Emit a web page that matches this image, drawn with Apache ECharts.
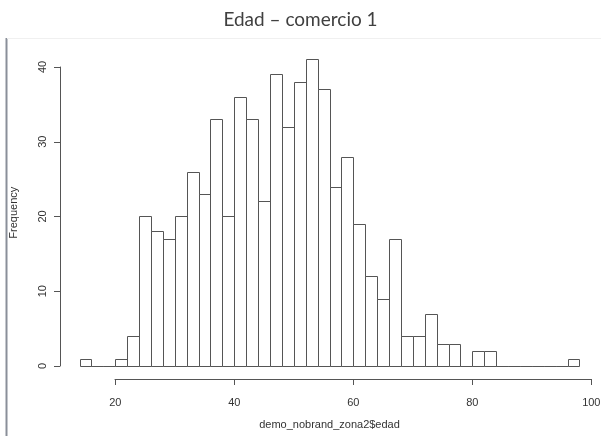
<!DOCTYPE html>
<html>
<head>
<meta charset="utf-8">
<script src="https://cdn.jsdelivr.net/npm/echarts@6/dist/echarts.min.js"></script>
<style>html,body{margin:0;padding:0;background:#fff;}#c{width:601px;height:436px;}</style>
</head>
<body>
<div id="c"></div>
<script>
// Histogram bins (age, width 2) and counts
var binStarts = [14,16,18,20,22,24,26,28,30,32,34,36,38,40,42,44,46,48,50,52,54,56,58,60,62,64,66,68,70,72,74,76,78,80,82,84,86,88,90,92,94,96];
var binWidth = 2;
var counts    = [1,0,0,1,4,20,18,17,20,26,23,33,20,36,33,22,39,32,38,41,37,24,28,19,12,9,17,4,4,7,3,3,0,2,2,0,0,0,0,0,0,1];
var xTicks = [20,40,60,80,100];
var yTicks = [0,10,20,30,40];

var data = binStarts.map(function(s,i){ return [s, s+binWidth, counts[i]]; });

var chart = echarts.init(document.getElementById('c'));
var axCol = '#555';
var txtCol = '#333';
var font = 'Liberation Sans, Arial, sans-serif';

chart.setOption({
  animation:false,
  title:{ text:'Edad \u2013 comercio 1', left:'center', top:5,
    textStyle:{ fontFamily:'Lato, Open Sans, sans-serif', fontWeight:'normal', fontSize:19, color:'#404040'} },
  grid:[
    { left:59.6, width:539.8, top:47.1, height:331.2, outerBoundsMode:'none' },
    { left:115, width:476, top:100, height:279, outerBoundsMode:'none' },
    { left:60, width:100, top:67, height:299, outerBoundsMode:'none' }
  ],
  xAxis:[
    { gridIndex:0, type:'value', min:10.64, max:101.36,
      axisLine:{show:false},
      axisTick:{show:false},
      axisLabel:{show:true, margin:19, customValues:xTicks, fontFamily:font, fontSize:11, color:txtCol},
      splitLine:{show:false},
      name:'demo_nobrand_zona2$edad', nameLocation:'middle', nameGap:41,
      nameTextStyle:{ fontFamily:font, fontSize:11, color:txtCol } },
    { gridIndex:1, type:'value', position:'bottom', min:xTicks[0], max:xTicks[xTicks.length-1], interval:20,
      axisLine:{show:true, lineStyle:{color:axCol, width:1}},
      axisTick:{show:true, inside:false, length:6, lineStyle:{color:axCol, width:1}},
      axisLabel:{show:false},
      splitLine:{show:false}, z:10 },
    { gridIndex:2, type:'value', show:false, min:0, max:1 }
  ],
  yAxis:[
    { gridIndex:0, type:'value', min:-1.64, max:42.64, axisLine:{show:false}, axisTick:{show:false}, axisLabel:{show:false}, splitLine:{show:false},
      name:'Frequency', nameLocation:'middle', nameGap:40,
      nameTextStyle:{ fontFamily:font, fontSize:11, color:txtCol } },
    { gridIndex:1, type:'value', show:false, min:0, max:1 },
    { gridIndex:2, type:'value', min:yTicks[0], max:yTicks[yTicks.length-1], interval:10,
      axisLine:{show:true, lineStyle:{color:axCol, width:1}}, axisTick:{show:true, inside:false, length:6, lineStyle:{color:axCol}},
      axisLabel:{ show:true, rotate:90, margin:12, fontFamily:font, fontSize:11, color:txtCol, showMinLabel:true, showMaxLabel:true },
      splitLine:{show:false} }
  ],
  series:[{
    type:'custom', xAxisIndex:0, yAxisIndex:0,
    data:data,
    renderItem:function(params, api){
      var p0 = api.coord([api.value(0), api.value(2)]);
      var p1 = api.coord([api.value(1), 0]);
      return { type:'rect',
        shape:{ x:Math.round(p0[0])+0.5, y:Math.round(p0[1])+0.5, width:Math.round(p1[0])-Math.round(p0[0]), height:Math.round(p1[1])-Math.round(p0[1]) },
        style:{ fill:'#fff', stroke:axCol, lineWidth:1 } };
    },
    encode:{ x:[0,1], y:2 }
  }],
  graphic:[
    { type:'line', shape:{x1:6.5, y1:38, x2:6.5, y2:436}, style:{stroke:'#8a8f99', lineWidth:2} },
    { type:'line', shape:{x1:7, y1:38.5, x2:601, y2:38.5}, style:{stroke:'#f0f0f0', lineWidth:1} }
  ]
});
</script>
</body>
</html>
